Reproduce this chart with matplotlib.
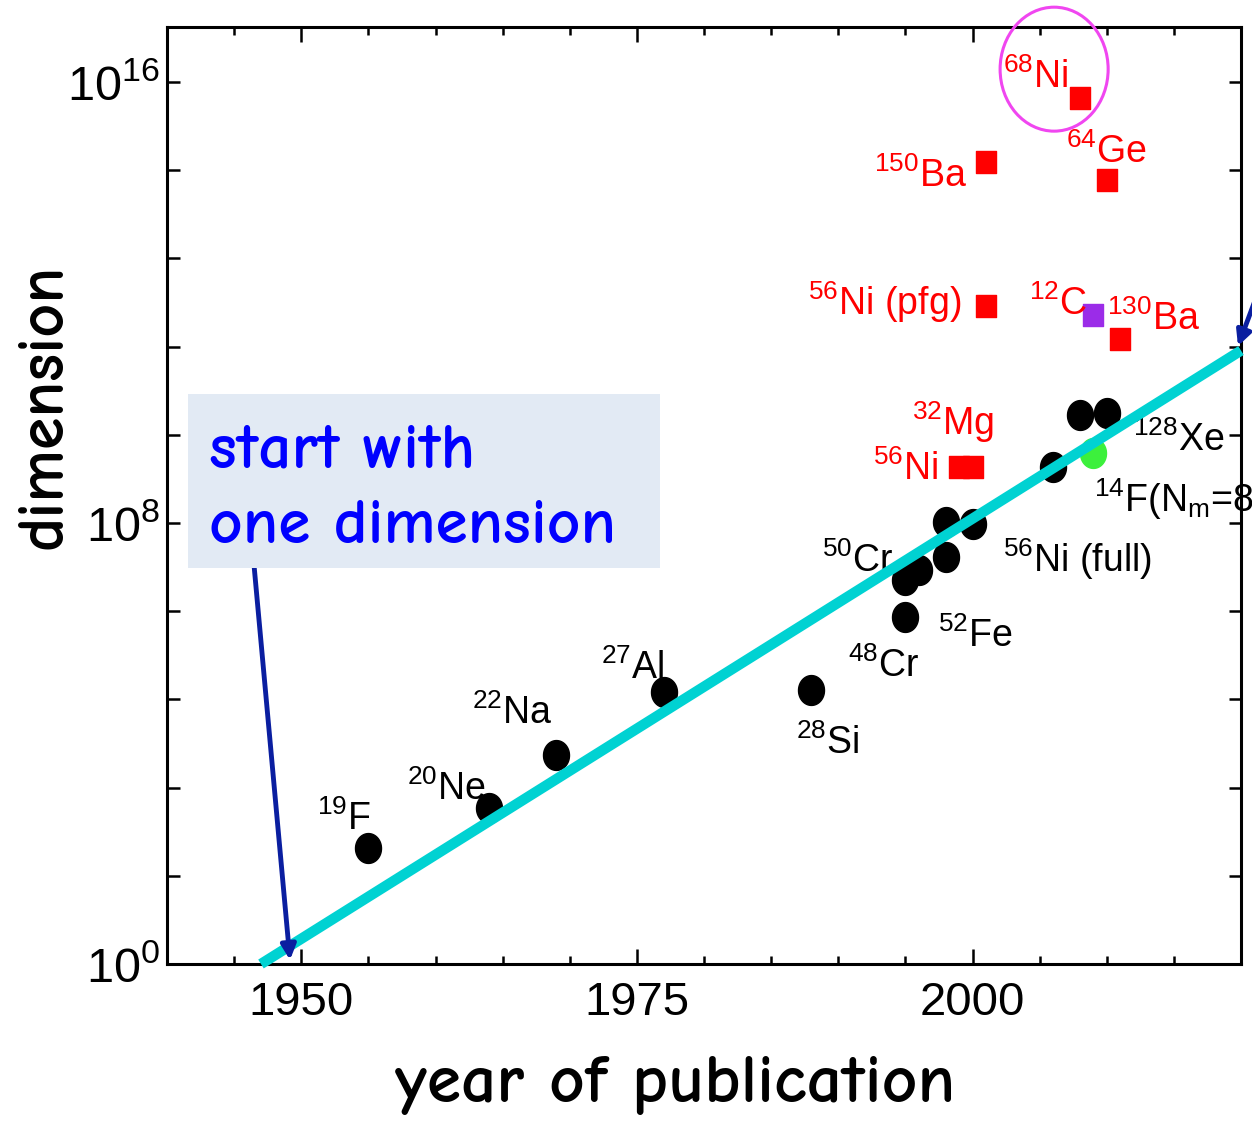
import matplotlib
matplotlib.use('agg')
import matplotlib.pyplot as plt
from matplotlib import font_manager
from matplotlib.font_manager import FontProperties
from matplotlib.patches import Ellipse, Rectangle
from matplotlib.path import Path
from matplotlib.ticker import FixedLocator, MultipleLocator, NullFormatter
import numpy as np

# shell-model calculations: year of publication, log10(dimension)
black_year = [1955, 1964, 1969, 1977, 1988, 1995, 1995, 1996, 1998, 1998, 2000, 2006, 2008, 2010]
black_exp = [2.10, 2.83, 3.79, 4.93, 4.97, 6.30, 6.97, 7.15, 7.38, 8.02, 7.98, 9.02, 9.96, 10.00]

red_year = [1999, 2000, 2001, 2001, 2010, 2011, 2008]
red_exp = [9.02, 9.02, 11.94, 14.55, 14.22, 11.34, 15.71]

purple_year = [2009]
purple_exp = [11.77]

green_year = [2009]
green_exp = [9.27]

# exponential growth guide line
trend_year = [1947, 2020]
trend_exp = [0.0, 11.13]

black_labels = [r'$^{19}$F', r'$^{20}$Ne', r'$^{22}$Na', r'$^{27}$Al', r'$^{28}$Si',
                r'$^{48}$Cr', r'$^{52}$Fe', r'$^{50}$Cr', r'$^{56}$Ni (full)',
                r'$^{14}$F(N$_{\mathrm{m}}$=8)', r'$^{128}$Xe']
black_label_pos = [(1951.2, 2.43), (1957.9, 2.98), (1962.7, 4.35), (1972.3, 5.17),
                   (1986.85, 3.81), (1990.7, 5.21), (1997.4, 5.75), (1988.8, 7.11),
                   (2002.3, 7.11), (2009.05, 8.20), (2011.95, 9.31)]

red_labels = [r'$^{56}$Ni', r'$^{32}$Mg', r'$^{56}$Ni (pfg)', r'$^{12}$C', r'$^{130}$Ba',
              r'$^{150}$Ba', r'$^{64}$Ge', r'$^{68}$Ni']
red_label_pos = [(1992.6, 8.78), (1995.5, 9.60), (1987.75, 11.77), (2004.2, 11.77),
                 (2010.0, 11.50), (1992.65, 14.10), (2007.0, 14.53), (2002.3, 15.89)]

y_major_exp = [0, 8, 16]
y_minor_exp = [1.6, 3.2, 4.8, 6.4, 9.6, 11.2, 12.8, 14.4]
x_major = [1950, 1975, 2000]


def pick_font(names):
    for n in names:
        try:
            font_manager.findfont(FontProperties(family=n), fallback_to_default=False)
            return n
        except ValueError:
            continue
    return 'DejaVu Sans'


sans = pick_font(['Liberation Sans Narrow', 'Arial Narrow', 'Liberation Sans'])
hand = pick_font(['Comic Sans MS', 'Comic Neue', 'DejaVu Sans'])

plt.rcParams['font.family'] = sans
plt.rcParams['mathtext.fontset'] = 'custom'
plt.rcParams['mathtext.rm'] = sans
plt.rcParams['mathtext.it'] = sans

# slightly squeezed markers
t = np.linspace(0, 2 * np.pi, 80)
oval = Path(np.column_stack([0.87 * np.cos(t), np.sin(t)]), closed=True)
box = Path([(-0.88, -1), (0.88, -1), (0.88, 1), (-0.88, 1), (-0.88, -1)], closed=True)

fig = plt.figure(figsize=(12.52, 11.21), dpi=100)
ax = fig.add_axes([167 / 1252, 157 / 1121, 1074 / 1252, 937 / 1121])

ax.set_yscale('log')
ax.set_xlim(1940, 2020)
ax.set_ylim(1, 1e17)

ax.plot(black_year, 10.0 ** np.array(black_exp), ls='none', marker=oval, ms=21.5,
        color='black', zorder=3)
ax.plot(green_year, 10.0 ** np.array(green_exp), ls='none', marker=oval, ms=21.5,
        color='#3cf03c', zorder=3)
ax.plot(red_year, 10.0 ** np.array(red_exp), ls='none', marker=box, ms=16,
        color='#ff0000', zorder=3)
ax.plot(purple_year, 10.0 ** np.array(purple_exp), ls='none', marker=box, ms=16,
        color='#9b2ce8', zorder=3)

ax.plot(trend_year, 10.0 ** np.array(trend_exp), color='#00d2d2', lw=7.5,
        solid_capstyle='butt', zorder=6, clip_on=False)

for txt, (xx, ee) in zip(black_labels, black_label_pos):
    ax.text(xx, 10.0 ** ee, txt, color='black', fontsize=27, va='baseline',
            ha='left', zorder=4)
for txt, (xx, ee) in zip(red_labels, red_label_pos):
    ax.text(xx, 10.0 ** ee, txt, color='#ff0000', fontsize=27, va='baseline',
            ha='left', zorder=4)

ax.xaxis.set_major_locator(FixedLocator(x_major))
ax.xaxis.set_minor_locator(MultipleLocator(5))
ax.yaxis.set_major_locator(FixedLocator([10.0 ** e for e in y_major_exp]))
ax.yaxis.set_minor_locator(FixedLocator([10.0 ** e for e in y_minor_exp]))
ax.yaxis.set_minor_formatter(NullFormatter())
ax.set_yticklabels([r'$\mathregular{10^{%d}}$' % e for e in y_major_exp])
ax.set_xticklabels([str(v) for v in x_major])

ax.tick_params(which='both', direction='in', top=True, right=True, width=1.8)
ax.tick_params(axis='x', which='major', length=11, labelsize=34, pad=12)
ax.tick_params(axis='x', which='minor', length=6)
ax.tick_params(axis='y', which='both', length=9, labelsize=35, pad=5)
for s in ax.spines.values():
    s.set_linewidth(2.2)

# highlighted point
ax.add_patch(Ellipse((0.826, 0.955), 0.1006, 0.1323, transform=ax.transAxes,
                     fill=False, edgecolor='#f046f0', lw=2.2, clip_on=False, zorder=7))

# annotation box
fig.add_artist(Rectangle((188 / 1252, 553 / 1121), 472 / 1252, 174 / 1121,
                         transform=fig.transFigure, facecolor='#e2eaf4',
                         edgecolor='none', zorder=8))
for line, yb in zip(['start with', 'one dimension'], [653, 578]):
    fig.text(209 / 1252, yb / 1121, line, color='#0000ff', fontsize=47,
             family=hand, fontweight='bold', va='baseline', ha='left', zorder=9)

ax.annotate('', xy=(290, 161), xycoords='figure pixels',
            xytext=(254, 556), textcoords='figure pixels',
            arrowprops=dict(arrowstyle='-|>', color='#0a1ea0', lw=3.5,
                            mutation_scale=22, shrinkA=0, shrinkB=0),
            annotation_clip=False, zorder=7)
ax.annotate('', xy=(1238, 775), xycoords='figure pixels',
            xytext=(1268, 855), textcoords='figure pixels',
            arrowprops=dict(arrowstyle='-|>', color='#0a1ea0', lw=3.5,
                            mutation_scale=22, shrinkA=0, shrinkB=0),
            annotation_clip=False, zorder=7)

fig.text(45 / 1252, 715 / 1121, 'dimension', rotation=90, ha='center', va='center',
         fontsize=47.5, family=hand, fontweight='bold')
fig.text(675 / 1252, 19 / 1121, 'year of publication', ha='center', va='baseline',
         fontsize=50, family=hand, fontweight='bold')

fig.savefig('out.png', dpi=100)
